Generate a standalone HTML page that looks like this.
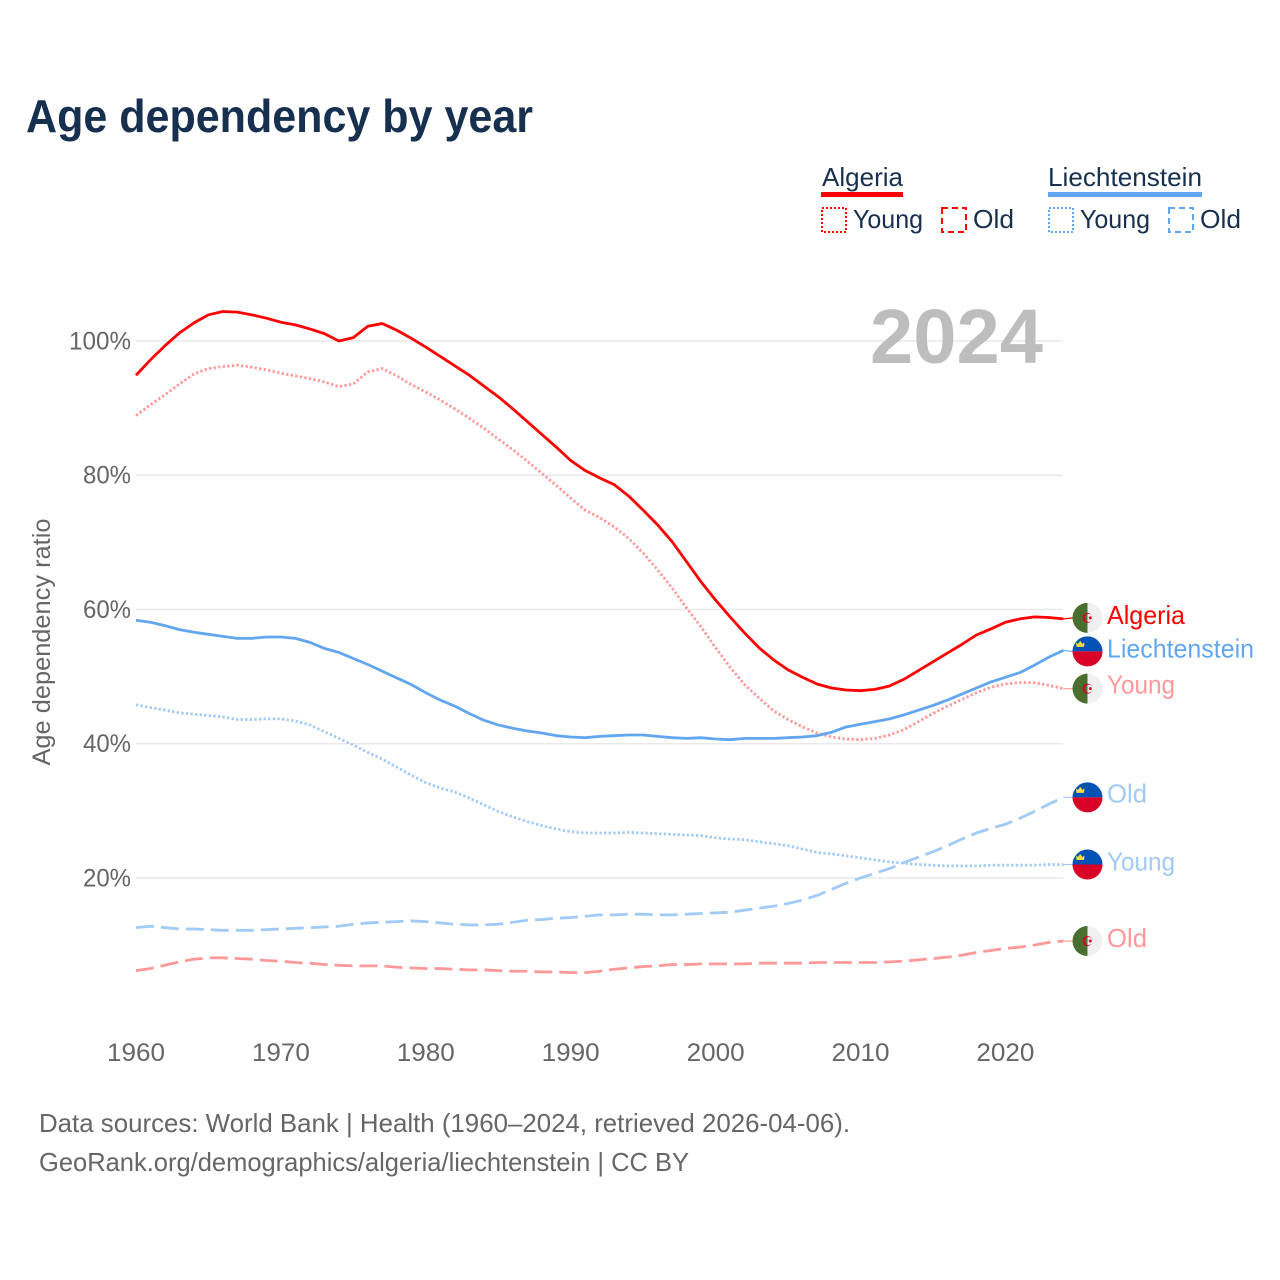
<!DOCTYPE html>
<html lang="en">
<head>
<meta charset="utf-8">
<title>Age dependency by year</title>
<style>
html,body{margin:0;padding:0;background:#fff;}
svg{display:block;font-family:"Liberation Sans",sans-serif;}
</style>
</head>
<body>
<svg id="chart" xmlns="http://www.w3.org/2000/svg" width="1280" height="1280" viewBox="0 0 1280 1280">
  <rect width="1280" height="1280" fill="#ffffff"/>
  <text x="26" y="132" font-size="46" font-weight="700" fill="#17304f" textLength="507" lengthAdjust="spacingAndGlyphs">Age dependency by year</text>

  <g font-size="26" fill="#17304f">
    <g>
      <text x="822" y="186" textLength="81" lengthAdjust="spacingAndGlyphs">Algeria</text>
      <rect x="821" y="192" width="82" height="5" fill="#ff0000"/>
      <rect x="822" y="208" width="24" height="24" fill="none" stroke="#ff0000" stroke-width="2" stroke-dasharray="2 2"/>
      <text x="853" y="228" textLength="70" lengthAdjust="spacingAndGlyphs">Young</text>
      <rect x="942" y="208" width="24" height="24" fill="none" stroke="#ff0000" stroke-width="2" stroke-dasharray="6 4"/>
      <text x="973" y="228" textLength="41" lengthAdjust="spacingAndGlyphs">Old</text>
    </g>
    <g>
      <text x="1048" y="186" textLength="154" lengthAdjust="spacingAndGlyphs">Liechtenstein</text>
      <rect x="1048" y="192" width="154" height="5" fill="#62a6f0"/>
      <rect x="1049" y="208" width="24" height="24" fill="none" stroke="#62a6f0" stroke-width="2" stroke-dasharray="2 2"/>
      <text x="1080" y="228" textLength="70" lengthAdjust="spacingAndGlyphs">Young</text>
      <rect x="1169" y="208" width="24" height="24" fill="none" stroke="#62a6f0" stroke-width="2" stroke-dasharray="6 4"/>
      <text x="1200" y="228" textLength="41" lengthAdjust="spacingAndGlyphs">Old</text>
    </g>
  </g>

  <g id="grid"></g>
  <text x="870" y="363" font-size="77" font-weight="700" fill="#bdbdbd" textLength="173" lengthAdjust="spacingAndGlyphs">2024</text>
  <g id="yticks"></g>
  <g id="xticks"></g>
  <text transform="translate(50,642) rotate(-90)" text-anchor="middle" font-size="25" fill="#666666" textLength="247" lengthAdjust="spacingAndGlyphs">Age dependency ratio</text>
  <g id="series"></g>
  <g id="ends"></g>

  <g font-size="26" fill="#666666">
    <text x="39" y="1132" textLength="811" lengthAdjust="spacingAndGlyphs">Data sources: World Bank | Health (1960–2024, retrieved 2026-04-06).</text>
    <text x="39" y="1171" textLength="650" lengthAdjust="spacingAndGlyphs">GeoRank.org/demographics/algeria/liechtenstein | CC BY</text>
  </g>
</svg>
<script>
const startYear = 1960;
const xTickYears = [1960, 1970, 1980, 1990, 2000, 2010, 2020];
const yTickValues = [20, 40, 60, 80, 100];

const algeriaTotal = [
  94.9,97.2,99.3,101.2,102.7,103.9,104.4,104.3,103.9,103.4,
  102.8,102.4,101.8,101.1,100.0,100.5,102.2,102.6,101.6,100.4,
  99.1,97.7,96.3,94.9,93.3,91.7,89.9,88.0,86.1,84.2,
  82.2,80.7,79.6,78.6,76.9,74.8,72.6,70.1,67.1,64.1,
  61.4,58.9,56.5,54.3,52.5,51.0,49.9,48.9,48.3,48.0,
  47.9,48.1,48.6,49.6,50.9,52.2,53.5,54.8,56.2,57.1,
  58.1,58.6,58.9,58.8,58.6];
const algeriaYoung = [
  88.9,90.5,92.0,93.6,95.1,95.9,96.2,96.4,96.1,95.7,
  95.2,94.8,94.4,93.9,93.2,93.6,95.4,95.9,94.8,93.5,
  92.4,91.2,89.9,88.5,87.0,85.4,83.8,82.1,80.3,78.5,
  76.6,74.8,73.7,72.3,70.6,68.4,65.9,63.2,60.2,57.4,
  54.3,51.4,48.8,46.8,44.9,43.6,42.5,41.6,41.0,40.7,
  40.6,40.8,41.3,42.1,43.3,44.5,45.6,46.6,47.6,48.4,
  48.9,49.1,49.1,48.7,48.2];
const algeriaOld = [
  6.2,6.5,7.0,7.5,7.9,8.1,8.1,8.0,7.9,7.7,
  7.6,7.4,7.3,7.1,7.0,6.9,6.9,6.9,6.7,6.6,
  6.5,6.5,6.4,6.3,6.3,6.2,6.1,6.1,6.0,6.0,
  5.9,5.9,6.1,6.4,6.6,6.8,6.9,7.1,7.1,7.2,
  7.2,7.2,7.2,7.3,7.3,7.3,7.3,7.4,7.4,7.4,
  7.4,7.4,7.5,7.6,7.8,8.0,8.2,8.5,8.9,9.2,
  9.5,9.7,10.0,10.4,10.6];
const liechtensteinTotal = [
  58.4,58.1,57.6,57.0,56.6,56.3,56.0,55.7,55.7,55.9,
  55.9,55.7,55.1,54.2,53.6,52.7,51.8,50.8,49.8,48.8,
  47.6,46.5,45.6,44.5,43.5,42.8,42.3,41.9,41.6,41.2,
  41.0,40.9,41.1,41.2,41.3,41.3,41.1,40.9,40.8,40.9,
  40.7,40.6,40.8,40.8,40.8,40.9,41.0,41.2,41.7,42.5,
  42.9,43.3,43.7,44.3,45.0,45.7,46.5,47.4,48.3,49.2,
  49.9,50.6,51.7,52.9,53.9];
const liechtensteinYoung = [
  45.8,45.4,45.0,44.6,44.4,44.2,44.0,43.6,43.6,43.7,
  43.7,43.4,42.8,41.8,40.8,39.8,38.7,37.7,36.5,35.3,
  34.2,33.4,32.8,31.9,30.9,29.9,29.1,28.4,27.8,27.3,
  26.9,26.7,26.7,26.7,26.8,26.7,26.6,26.5,26.4,26.3,
  26.0,25.8,25.7,25.4,25.1,24.8,24.3,23.8,23.6,23.3,
  23.0,22.7,22.4,22.2,22.0,21.9,21.8,21.8,21.8,21.9,
  21.9,21.9,21.9,22.0,22.0];
const liechtensteinOld = [
  12.6,12.8,12.6,12.4,12.4,12.3,12.2,12.2,12.2,12.3,
  12.4,12.5,12.6,12.7,12.8,13.1,13.3,13.4,13.5,13.6,
  13.5,13.3,13.1,13.0,13.0,13.1,13.4,13.7,13.8,14.0,
  14.1,14.3,14.5,14.5,14.6,14.6,14.5,14.5,14.6,14.7,
  14.8,14.9,15.2,15.5,15.8,16.2,16.7,17.4,18.3,19.2,
  20.0,20.7,21.4,22.3,23.1,23.9,24.8,25.8,26.7,27.4,
  28.0,28.9,29.9,31.0,32.0];

const NS = 'http://www.w3.org/2000/svg';
const RED = '#ff0000', BLUE = '#62a6f0', LIGHT_RED = '#ff9999', LIGHT_BLUE = '#a1caf6';
const DOT = '2.3 2.3', DASH = '18 7';
const plotLeft = 136, plotRight = 1063;
const xScale = year => 136 + (year - 1960) * 14.49;
const yScale = value => 1012.2 - value * 6.712;
const labelWidths = {Algeria: 78, Liechtenstein: 147, Young: 68, Old: 40};

function make(tag, parent, attrs, text) {
  const el = document.createElementNS(NS, tag);
  for (const key in attrs) el.setAttribute(key, attrs[key]);
  if (text !== undefined) el.textContent = text;
  parent.appendChild(el);
  return el;
}

const gridGroup = document.getElementById('grid');
const yTickGroup = document.getElementById('yticks');
yTickValues.forEach(value => {
  const line = make('line', gridGroup, {x1: plotLeft, x2: plotRight, y1: yScale(value), y2: yScale(value), stroke: '#e9e9e9', 'stroke-width': 1.5});
  
  
  const label = make('text', yTickGroup, {x: 131, y: yScale(value) + 8.5, 'text-anchor': 'end', 'font-size': 25, fill: '#666666', textLength: value === 100 ? 62 : 48, lengthAdjust: 'spacingAndGlyphs'}, value + '%');
  
  
});

const xTickGroup = document.getElementById('xticks');
xTickYears.forEach(year => {
  const label = make('text', xTickGroup, {x: xScale(year), y: 1061, 'text-anchor': 'middle', 'font-size': 25, fill: '#666666', textLength: 58, lengthAdjust: 'spacingAndGlyphs'}, String(year));
  
  
});

function drawSeries(name, values, color, width, dash) {
  const group = document.getElementById('series');
  const points = values.map((v, i) => xScale(startYear + i).toFixed(2) + ',' + yScale(v).toFixed(2)).join(' ');
  const attrs = {points: points, fill: 'none', stroke: color, 'stroke-width': width, 'stroke-linejoin': 'round'};
  if (dash) attrs['stroke-dasharray'] = dash;
  const line = make('polyline', group, attrs);
  
  
}

function drawAlgeriaFlag(parent) {
  make('path', parent, {d: 'M0,-15 A15,15 0 0 0 0,15 Z', fill: '#496e2d'});
  make('path', parent, {d: 'M0,-15 A15,15 0 0 1 0,15 Z', fill: '#f0f0f0'});
  make('circle', parent, {cx: 0, cy: 0, r: 5, fill: '#d80027'});
  make('path', parent, {d: 'M0,-3.82 A4,4 0 0 0 0,3.82 Z', fill: '#496e2d'});
  make('path', parent, {d: 'M0,-3.82 A4,4 0 1 1 0,3.82 Z', fill: '#f0f0f0'});
  make('circle', parent, {cx: 2.8, cy: 0, r: 1.5, fill: '#d80027'});
}

function drawLiechtensteinFlag(parent) {
  make('path', parent, {d: 'M-15,0 A15,15 0 0 1 15,0 Z', fill: '#0052b4'});
  make('path', parent, {d: 'M-15,0 A15,15 0 0 0 15,0 Z', fill: '#d80027'});
  make('path', parent, {d: 'M-11,-4.5 L-11.5,-9 L-9.5,-7.5 L-7.3,-10.5 L-5,-7.5 L-3,-9 L-3.5,-4.5 Z', fill: '#ffda44'});
}

function drawEnd(name, label, values, color, flag, flagShift, labelShift) {
  const group = document.getElementById('ends');
  const last = values[values.length - 1];
  const lineY = yScale(last);
  const cy = lineY + flagShift;
  const connector = make('line', group, {x1: xScale(startYear + values.length - 1), x2: 1073, y1: lineY, y2: cy, stroke: color, 'stroke-width': 1.2});
  
  
  const flagGroup = make('g', group, {transform: 'translate(1087.5,' + cy.toFixed(2) + ')'});
  
  
  if (flag === 'dz') drawAlgeriaFlag(flagGroup); else drawLiechtensteinFlag(flagGroup);
  const text = make('text', group, {x: 1107, y: lineY + 7 + labelShift, 'font-size': 26, fill: color, textLength: labelWidths[label], lengthAdjust: 'spacingAndGlyphs'}, label);
  
  
}

drawSeries('liechtenstein-old', liechtensteinOld, LIGHT_BLUE, 2.8, DASH);
drawSeries('liechtenstein-young', liechtensteinYoung, LIGHT_BLUE, 2.8, DOT);
drawSeries('algeria-old', algeriaOld, LIGHT_RED, 2.8, DASH);
drawSeries('algeria-young', algeriaYoung, LIGHT_RED, 2.8, DOT);
drawSeries('liechtenstein-total', liechtensteinTotal, BLUE, 2.8, null);
drawSeries('algeria-total', algeriaTotal, RED, 2.8, null);

drawEnd('algeria-total', 'Algeria', algeriaTotal, RED, 'dz', -1, -2);
drawEnd('liechtenstein-total', 'Liechtenstein', liechtensteinTotal, BLUE, 'li', 1, 0);
drawEnd('algeria-young', 'Young', algeriaYoung, LIGHT_RED, 'dz', 0, -2);
drawEnd('liechtenstein-old', 'Old', liechtensteinOld, LIGHT_BLUE, 'li', 0, -2);
drawEnd('liechtenstein-young', 'Young', liechtensteinYoung, LIGHT_BLUE, 'li', 0, -1);
drawEnd('algeria-old', 'Old', algeriaOld, LIGHT_RED, 'dz', 0, -1);
</script>
</body>
</html>
